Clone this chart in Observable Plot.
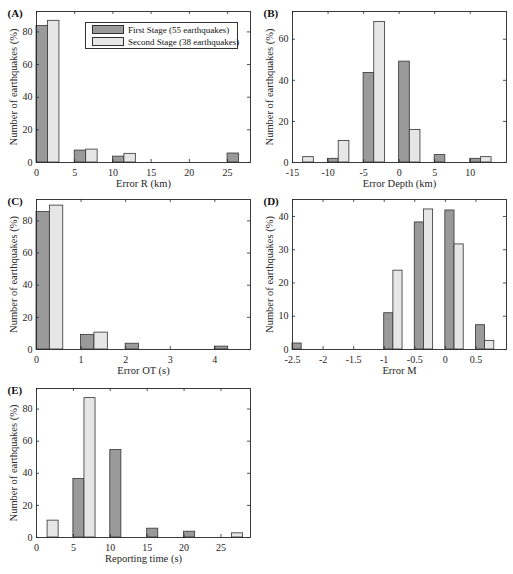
<!DOCTYPE html>
<html>
<head>
<meta charset="utf-8">
<script src="https://cdn.jsdelivr.net/npm/d3@7"></script>
<script src="https://cdn.jsdelivr.net/npm/@observablehq/plot@0.6"></script>
<style>
  html, body { margin: 0; padding: 0; background: #fff; }
  #wrap { position: relative; width: 513px; height: 574px; font-family: "Liberation Serif", serif; }
  #wrap svg { position: absolute; overflow: visible; }
  .legend { position: absolute; background: #fff; border: 1px solid #333; box-sizing: border-box; font-family: "Liberation Serif", serif; font-size: 9px; color: #111; }
  .legend .row { position: absolute; left: 6px; display: flex; align-items: center; white-space: nowrap; }
  .legend .sw { width: 30px; height: 7px; border: 1px solid #333; margin-right: 4px; }
</style>
</head>
<body>
<div id="wrap"></div>
<script>
// Panel A: Error R (km), bins of 5 km
const edgesA = [0, 5, 10, 15, 20, 25];
const firstA = [83.6, 7.3, 3.6, 0, 0, 5.5];
const secondA = [86.8, 7.9, 5.3, 0, 0, 0];
const xTicksA = [0, 5, 10, 15, 20, 25];
const yTicksA = [0, 20, 40, 60, 80];

// Panel B: Error Depth (km), bins of 5 km
const edgesB = [-15, -10, -5, 0, 5, 10];
const firstB = [0, 1.8, 43.6, 49.1, 3.6, 1.8];
const secondB = [2.6, 10.5, 68.4, 15.8, 0, 2.6];
const xTicksB = [-15, -10, -5, 0, 5, 10];
const yTicksB = [0, 20, 40, 60];

// Panel C: Error OT (s), bins of 1 s
const edgesC = [0, 1, 2, 3, 4];
const firstC = [85.5, 9.1, 3.6, 0, 1.8];
const secondC = [89.5, 10.5, 0, 0, 0];
const xTicksC = [0, 1, 2, 3, 4];
const yTicksC = [0, 20, 40, 60, 80];

// Panel D: Error M, bins of 0.5
const edgesD = [-2.5, -2, -1.5, -1, -0.5, 0, 0.5];
const firstD = [1.8, 0, 0, 10.9, 38.2, 41.8, 7.3];
const secondD = [0, 0, 0, 23.7, 42.1, 31.6, 2.6];
const xTicksD = [-2.5, -2, -1.5, -1, -0.5, 0, 0.5];
const yTicksD = [0, 10, 20, 30, 40];

// Panel E: Reporting time (s), bins of 5 s
const edgesE = [0, 5, 10, 15, 20, 25];
const firstE = [0, 36.4, 54.5, 5.5, 3.6, 0];
const secondE = [10.5, 86.8, 0, 0, 0, 2.6];
const xTicksE = [0, 5, 10, 15, 20, 25];
const yTicksE = [0, 20, 40, 60, 80];

const seriesNames = ["First Stage (55 earthquakes)", "Second Stage (38 earthquakes)"];
const yLabel = "Number of earthquakes (%)";

const DARK = "#9a9a9a", LIGHT = "#e6e6e6", EDGE = "#333", AX = "#262626";

function panel(o) {
  const fh = o.height - o.mt - o.mb;
  const fw = o.width - o.ml - o.mr;
  const bw = o.binWidth * 0.3;
  const d1 = [], d2 = [];
  o.edges.forEach((e, i) => {
    if (o.first[i] > 0) d1.push({x1: e, x2: e + bw, v: o.first[i]});
    if (o.second[i] > 0) d2.push({x1: e + bw, x2: e + 2 * bw, v: o.second[i]});
  });
  const svg = Plot.plot({
    width: o.width, height: o.height,
    marginLeft: o.ml, marginRight: o.mr, marginTop: o.mt, marginBottom: o.mb,
    style: {fontFamily: "Liberation Serif, serif", fontSize: "10px", color: AX, background: "transparent", overflow: "visible"},
    x: {domain: o.xDomain},
    y: {domain: o.yDomain},
    marks: [
      Plot.rectY(d1, {x1: "x1", x2: "x2", y: "v", fill: DARK, stroke: EDGE, strokeWidth: 0.8}),
      Plot.rectY(d2, {x1: "x1", x2: "x2", y: "v", fill: LIGHT, stroke: EDGE, strokeWidth: 0.8}),
      Plot.tickX(o.xTicks, {x: d => d, insetTop: fh - 3, stroke: AX, strokeWidth: 0.8}),
      Plot.tickX(o.xTicks, {x: d => d, insetBottom: fh - 3, stroke: AX, strokeWidth: 0.8}),
      Plot.tickY(o.yTicks, {y: d => d, insetRight: fw - 3, stroke: AX, strokeWidth: 0.8}),
      Plot.tickY(o.yTicks, {y: d => d, insetLeft: fw - 3, stroke: AX, strokeWidth: 0.8}),
      Plot.frame({stroke: AX, strokeWidth: 0.9}),
      Plot.axisX(o.xTicks, {tickSize: 0, tickPadding: 6, tickFormat: d => String(d), label: null, fontSize: 10}),
      Plot.axisY(o.yTicks, {tickSize: 0, tickPadding: 4, tickFormat: d => String(d), label: null, fontSize: 10}),
      Plot.text([o.xlabel], {text: d => d, frameAnchor: "bottom", textAnchor: "middle", lineAnchor: "middle", dy: 21, fontSize: 10.5, fill: AX}),
      Plot.text([yLabel], {text: d => d, frameAnchor: "left", textAnchor: "middle", lineAnchor: "middle", dx: -23, rotate: -90, fontSize: 10.5, fill: AX}),
      Plot.text([o.tag], {text: d => d, frameAnchor: "top-left", textAnchor: "start", lineAnchor: "middle", dx: -29, dy: 1.5, fontSize: 11, fontWeight: "bold", fill: "#111"})
    ]
  });
  svg.style.left = o.left + "px";
  svg.style.top = o.top + "px";
  document.getElementById("wrap").appendChild(svg);
}

const col1 = {left: 0, width: 256, ml: 36, mr: 6};
const col2 = {left: 256, width: 257, ml: 36, mr: 7};
const row1 = {top: 0, height: 187, mt: 11, mb: 25};
const row2 = {top: 187, height: 187, mt: 12, mb: 25};
const row3 = {top: 374, height: 200, mt: 14, mb: 37};

panel({...col1, ...row1, tag: "(A)", xlabel: "Error R (km)", edges: edgesA, first: firstA, second: secondA, binWidth: 5, xDomain: [0, 28], yDomain: [0, 92.5], xTicks: xTicksA, yTicks: yTicksA});
panel({...col2, ...row1, tag: "(B)", xlabel: "Error Depth (km)", edges: edgesB, first: firstB, second: secondB, binWidth: 5, xDomain: [-15, 15.1], yDomain: [0, 73.5], xTicks: xTicksB, yTicks: yTicksB});
panel({...col1, ...row2, tag: "(C)", xlabel: "Error OT (s)", edges: edgesC, first: firstC, second: secondC, binWidth: 1, xDomain: [0, 4.8], yDomain: [0, 93.3], xTicks: xTicksC, yTicks: yTicksC});
panel({...col2, ...row2, tag: "(D)", xlabel: "Error M", edges: edgesD, first: firstD, second: secondD, binWidth: 0.5, xDomain: [-2.5, 1.0], yDomain: [0, 45.1], xTicks: xTicksD, yTicks: yTicksD});
panel({...col1, ...row3, tag: "(E)", xlabel: "Reporting time (s)", edges: edgesE, first: firstE, second: secondE, binWidth: 5, xDomain: [0, 29], yDomain: [0, 92.8], xTicks: xTicksE, yTicks: yTicksE});

// Legend inside panel A
const lg = document.createElement("div");
lg.className = "legend";
Object.assign(lg.style, {left: "85px", top: "22px", width: "153px", height: "27px"});
[[DARK, 0], [LIGHT, 1]].forEach(([c, i]) => {
  const r = document.createElement("div");
  r.className = "row";
  r.style.top = (i === 0 ? 1 : 13) + "px";
  r.style.height = "11px";
  const sw = document.createElement("div");
  sw.className = "sw";
  sw.style.background = c;
  const t = document.createElement("span");
  t.textContent = seriesNames[i];
  r.appendChild(sw); r.appendChild(t);
  lg.appendChild(r);
});
document.getElementById("wrap").appendChild(lg);
</script>
</body>
</html>
